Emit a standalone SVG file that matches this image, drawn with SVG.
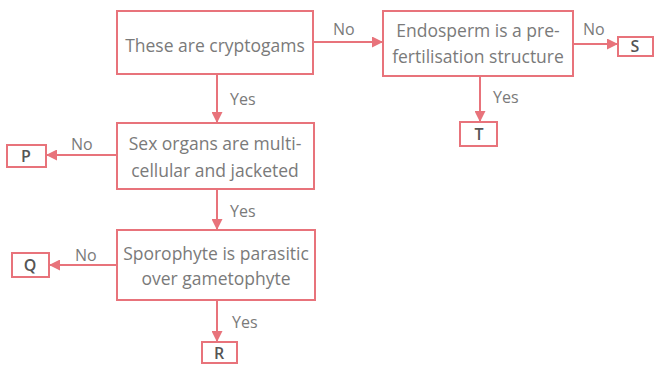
<svg xmlns="http://www.w3.org/2000/svg" width="656" height="368" viewBox="0 0 656 368">
<style>
.box{fill:#fff;stroke:#e8737b;stroke-width:2}
.ln{stroke:#e8737b;stroke-width:2;fill:none}
.t{font-family:"Open Sans","Liberation Sans",sans-serif;font-size:17.5px;fill:#7a7a7a;text-anchor:middle}
.lb{font-family:"Open Sans","Liberation Sans",sans-serif;font-size:16px;fill:#7a7a7a}
.k{font-family:"Open Sans","Liberation Sans",sans-serif;font-size:16px;font-weight:600;fill:#555;text-anchor:middle}
</style>
<defs>
<marker id="ah" markerWidth="11" markerHeight="11" refX="10" refY="5.5" orient="auto" markerUnits="userSpaceOnUse">
<path d="M0,0 L11,5.5 L0,11 Z" fill="#e8737b"/>
</marker>
</defs>
<rect width="656" height="368" fill="#fff"/>
<g id="connectors">
<line class="ln" x1="217" y1="74" x2="217" y2="122" marker-end="url(#ah)"/>
<line class="ln" x1="217" y1="189" x2="217" y2="229" marker-end="url(#ah)"/>
<line class="ln" x1="217" y1="300" x2="217" y2="341" marker-end="url(#ah)"/>
<line class="ln" x1="117" y1="155" x2="47" y2="155" marker-end="url(#ah)"/>
<line class="ln" x1="117" y1="265" x2="50" y2="265" marker-end="url(#ah)"/>
<line class="ln" x1="313" y1="42" x2="382" y2="42" marker-end="url(#ah)"/>
<line class="ln" x1="573" y1="44" x2="617" y2="44" marker-end="url(#ah)"/>
<line class="ln" x1="480" y1="76" x2="480" y2="121" marker-end="url(#ah)"/>
<text class="lb" x="230" y="105">Yes</text>
<text class="lb" x="230" y="217">Yes</text>
<text class="lb" x="232" y="328">Yes</text>
<text class="lb" x="71" y="150">No</text>
<text class="lb" x="75" y="261">No</text>
<text class="lb" x="333" y="35">No</text>
<text class="lb" x="583" y="35">No</text>
<text class="lb" x="493" y="103">Yes</text>
</g>
<g id="n1"><rect class="box" x="117" y="11" width="196" height="63"/><text class="t" x="215" y="52">These are cryptogams</text></g>
<g id="n2"><rect class="box" x="117" y="123" width="197" height="66"/><text class="t" x="215" y="150">Sex organs are multi-</text><text class="t" x="215" y="177">cellular and jacketed</text></g>
<g id="n3"><rect class="box" x="117" y="230" width="198" height="70"/><text class="t" x="216" y="260">Sporophyte is parasitic</text><text class="t" x="216" y="285">over gametophyte</text></g>
<g id="n4"><rect class="box" x="383" y="11" width="190" height="65"/><text class="t" x="478" y="37">Endosperm is a pre-</text><text class="t" x="478" y="63">fertilisation structure</text></g>
<g id="P"><rect class="box" x="7" y="145" width="39" height="22"/><text class="k" x="26" y="162">P</text></g>
<g id="Q"><rect class="box" x="12" y="253" width="37" height="24"/><text class="k" x="30" y="271">Q</text></g>
<g id="R"><rect class="box" x="202" y="342" width="35" height="21"/><text class="k" x="219" y="359">R</text></g>
<g id="S"><rect class="box" x="618" y="37" width="35" height="19"/><text class="k" x="635" y="52">S</text></g>
<g id="T"><rect class="box" x="460" y="122" width="37" height="24"/><text class="k" x="479" y="140">T</text></g>
</svg>
